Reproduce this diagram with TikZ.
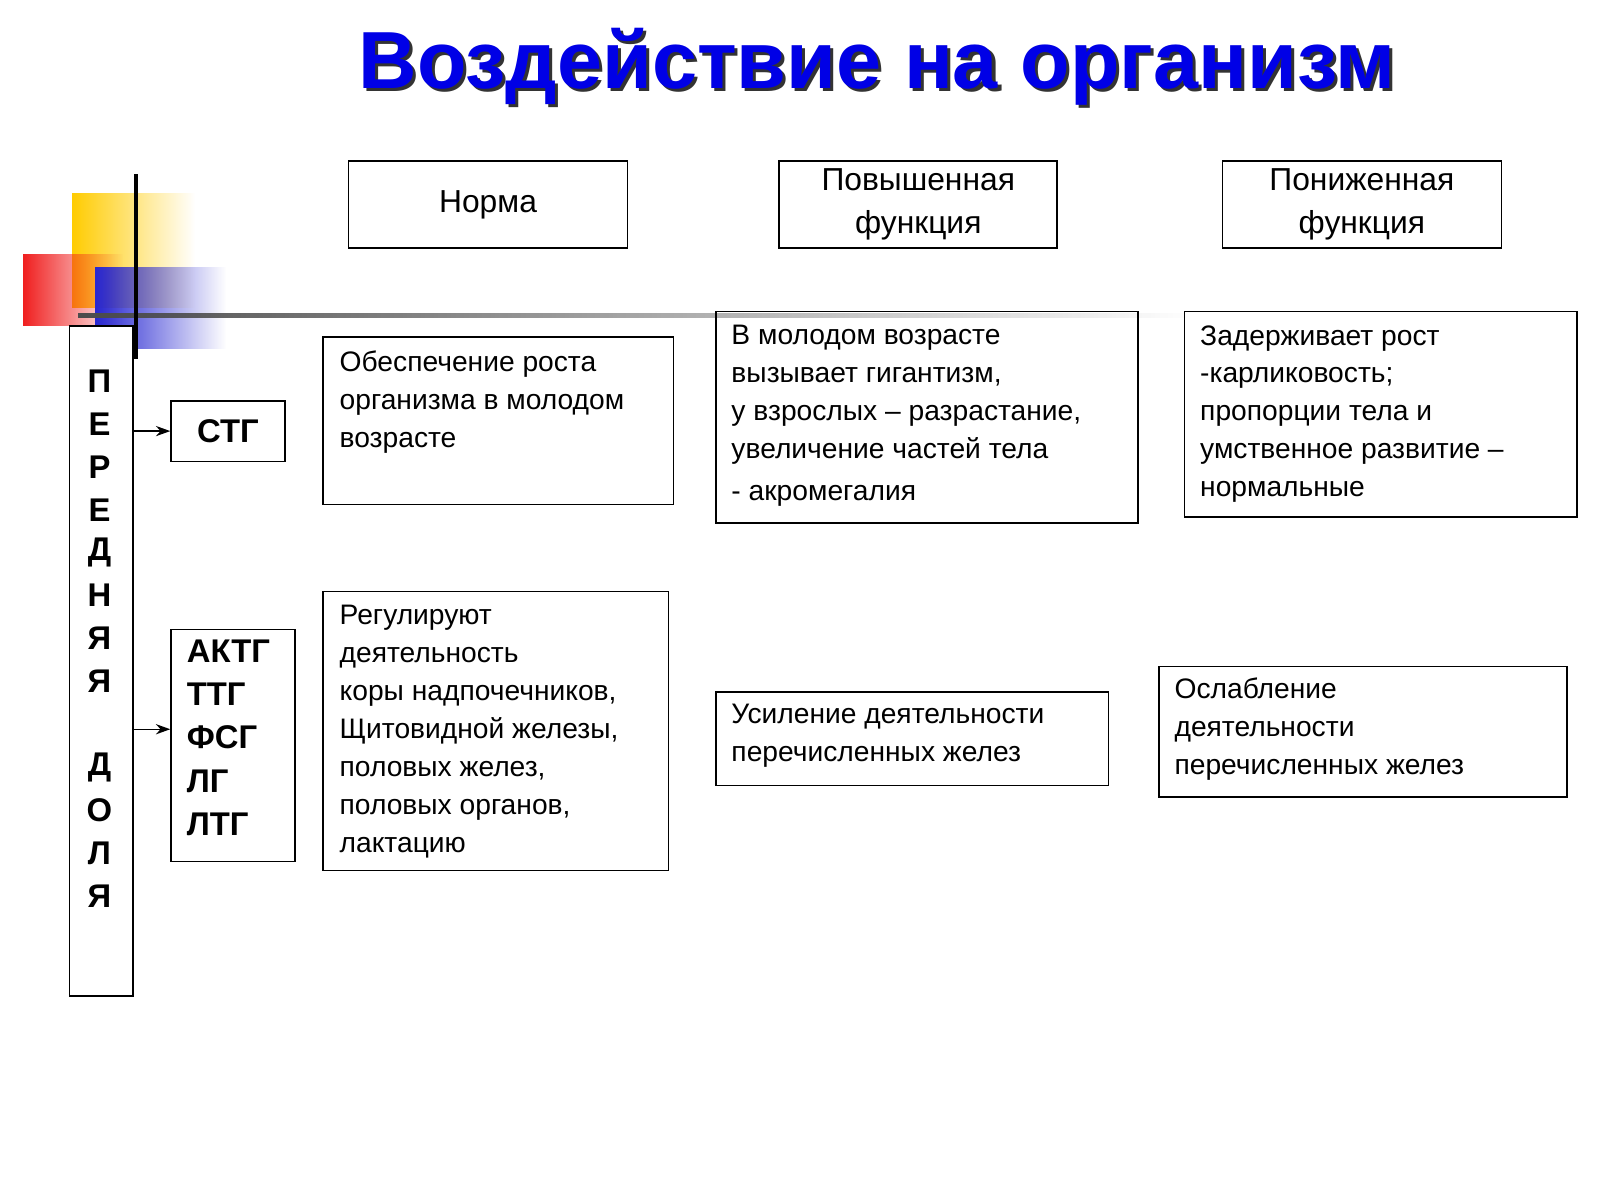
\documentclass[tikz,border=0pt]{standalone}
\usepackage{fontspec}
\setmainfont{Liberation Sans}
\usetikzlibrary{positioning,fadings,arrows.meta}
\definecolor{titleblue}{RGB}{0,0,230}
\definecolor{decoyellow}{RGB}{255,204,0}
\definecolor{decored}{RGB}{240,30,30}
\definecolor{decoblue}{RGB}{40,40,210}
\tikzset{
  box/.style={draw, line width=1.6pt, anchor=north west, inner sep=0pt},
  txt/.style={anchor=north west, align=left, inner sep=0pt,
    font=\fontsize{27.5}{37}\selectfont},
  head/.style={align=center, font=\fontsize{31}{42}\selectfont},
  hormone/.style={anchor=north west, align=left, inner sep=0pt,
    font=\bfseries\fontsize{32}{42}\selectfont},
  link/.style={-{Stealth[length=14pt,width=10pt]}, line width=1.4pt}
}
\begin{document}
\begin{tikzpicture}[x=1pt,y=-1pt]
\useasboundingbox[fill=white] (0,0) rectangle (1560,1170);
% decoration
\fill[decoyellow, path fading=east] (70,188) rectangle (190,300);
\fill[decored, path fading=east] (22,248) rectangle (120,318);
\fill[decoblue, path fading=east] (93,260) rectangle (220,340);
\fill[black!70, path fading=east] (77,305) rectangle (1160,310);
\draw[line width=4pt] (133,170) -- (133,350);
% title
\node[font=\bfseries\fontsize{79}{84}\selectfont, text=black!80] at (858,68) {Воздействие на организм};
\node (title) [font=\bfseries\fontsize{79}{84}\selectfont, text=titleblue] at (855,65) {Воздействие на организм};
% column heads
\node (norm) [box, minimum width=272pt, minimum height=85pt] at (339,156) {};
\node [head] at (norm.center) {Норма};
\node (high) [box, minimum width=271pt, minimum height=85pt] at (759,156) {};
\node [head] at (high.center) {Повышенная\\ функция};
\node (low) [box, minimum width=272pt, minimum height=85pt] at (1191,156) {};
\node [head] at (low.center) {Пониженная\\ функция};
% lobe
\node (lobe) [box, fill=white, minimum width=62pt, minimum height=653pt] at (67,317) {};
\foreach \l [count=\i] in {П,Е,Р,Е,Д,Н,Я,Я,{},Д,О,Л,Я}
  \node[font=\bfseries\fontsize{32}{32}\selectfont] at (97,330+41.8*\i) {\l};
% hormones
\node (stg) [box, minimum width=111pt, minimum height=59pt] at (166,390) {};
\node [font=\bfseries\fontsize{32}{40}\selectfont] at (stg.center) {СТГ};
\node (trop) [box, minimum width=121pt, minimum height=226pt] at (166,613) {};
\node [hormone] at (182,624) {АКТГ\\ТТГ\\ФСГ\\ЛГ\\ЛТГ};
\draw[link] (lobe.east |- stg.west) -- (stg.west);
\draw[link] (lobe.east |- 0,711) -- (trop.west |- 0,711);
% row 1
\node (n1) [box, minimum width=342pt, minimum height=163pt] at (314,328) {};
\node [txt] at ([shift={(17,14)}]n1.north west) {Обеспечение роста\\организма в молодом\\возрасте};
\node (h1) [box, minimum width=412pt, minimum height=206pt] at (697,303) {};
\node [txt] at ([shift={(16,14)}]h1.north west) {В молодом  возрасте\\вызывает гигантизм,\\у взрослых – разрастание,\\увеличение частей тела\\[4pt]- акромегалия};
\node (l1) [box, minimum width=383pt, minimum height=200pt] at (1154,303) {};
\node [txt] at ([shift={(16,14)}]l1.north west) {Задерживает рост\\-карликовость;\\пропорции тела и\\умственное развитие –\\нормальные};
% row 2
\node (n2) [box, minimum width=337pt, minimum height=272pt] at (314,576) {};
\node [txt] at ([shift={(17,14)}]n2.north west) {Регулируют\\деятельность\\коры надпочечников,\\Щитовидной железы,\\половых желез,\\половых органов,\\лактацию};
\node (h2) [box, minimum width=383pt, minimum height=91pt] at (697,674) {};
\node [txt] at ([shift={(16,12)}]h2.north west) {Усиление деятельности\\перечисленных желез};
\node (l2) [box, minimum width=398pt, minimum height=127pt] at (1129,649) {};
\node [txt] at ([shift={(16,12)}]l2.north west) {Ослабление\\деятельности\\перечисленных желез};
\end{tikzpicture}
\end{document}
